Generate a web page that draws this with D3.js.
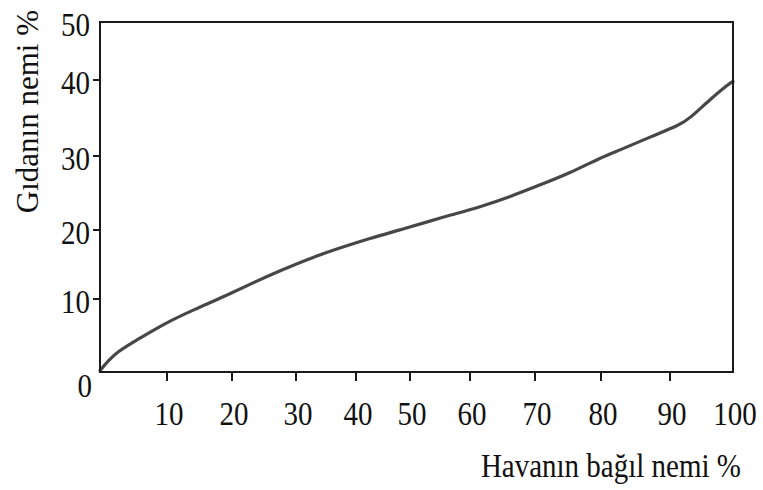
<!DOCTYPE html>
<html>
<head>
<meta charset="utf-8">
<script src="https://cdn.jsdelivr.net/npm/d3@7/dist/d3.min.js"></script>
<style>
  html, body { margin: 0; padding: 0; background: #fff; }
  svg { display: block; }
  text { font-family: "Liberation Serif", "Times New Roman", serif; fill: #111; }
</style>
</head>
<body>
<svg id="chart" width="763" height="490"></svg>
<script>
// Sorption curve: food moisture (%) against relative air humidity (%)
const xTicks = [0, 10, 20, 30, 40, 50, 60, 70, 80, 90, 100];
const yTicks = [0, 10, 20, 30, 40, 50];
const xTickLabels = ["10", "20", "30", "40", "50", "60", "70", "80", "90", "100"];
const yTickLabels = ["10", "20", "30", "40", "50"];

const humidity = [0, 2.2, 5.2, 9.7, 14.3, 18.9, 23.6, 27.5, 32.3, 37.3, 42.6, 48.1,
  53.3, 56.7, 61.5, 66.2, 70.8, 75.3, 79.8, 82.8, 87.1, 91.6, 93.2, 96.3, 99.5, 100];
const moisture = [0.2, 2.6, 4.2, 6.7, 8.6, 10.4, 12.5, 14.1, 15.9, 17.4, 18.8, 20.0,
  21.2, 22.0, 23.1, 24.5, 26.1, 27.7, 29.7, 30.8, 32.5, 34.1, 35.0, 37.4, 39.6, 39.8];

const xTitle = "Havanın bağıl nemi %";
const yTitle = "Gıdanın nemi %";

const svg = d3.select("#chart");

// Hand-drawn axes: tick spacing is not perfectly even, so piecewise scales are used
const x = d3.scaleLinear()
  .domain(xTicks)
  .range([100, 167, 232, 296, 356, 410, 470, 535, 601, 670, 733]);
const y = d3.scaleLinear()
  .domain(yTicks)
  .range([372, 299, 230, 156, 80, 22]);

const defs = svg.append("defs");
defs.append("filter").attr("id", "soft")
  .attr("x", "-5%").attr("y", "-5%").attr("width", "110%").attr("height", "110%")
  .append("feGaussianBlur").attr("stdDeviation", 0.7);

// Curve (smoothed)
const line = d3.line()
  .x((d, i) => x(humidity[i]))
  .y(d => y(d))
  .curve(d3.curveBasis);

svg.append("path")
  .datum(moisture)
  .attr("d", line)
  .attr("fill", "none")
  .attr("stroke", "#474747")
  .attr("stroke-width", 3.2)
  .attr("stroke-linecap", "round")
  .attr("filter", "url(#soft)");

// Frame
svg.append("rect")
  .attr("x", x(0)).attr("y", y(50))
  .attr("width", x(100) - x(0)).attr("height", y(0) - y(50))
  .attr("fill", "none")
  .attr("stroke", "#1a1a1a")
  .attr("stroke-width", 2);

// Bottom ticks
svg.append("g").selectAll("line")
  .data(xTicks.slice(1, -1))
  .join("line")
  .attr("x1", d => x(d)).attr("x2", d => x(d))
  .attr("y1", y(0)).attr("y2", y(0) + 9)
  .attr("stroke", "#1a1a1a").attr("stroke-width", 2);

// Left ticks
svg.append("g").selectAll("line")
  .data(yTicks.slice(1, -1))
  .join("line")
  .attr("x1", x(0) - 7).attr("x2", x(0))
  .attr("y1", d => y(d)).attr("y2", d => y(d))
  .attr("stroke", "#1a1a1a").attr("stroke-width", 2);

const FS = 29, STRETCH = 1.15;

// X tick labels
svg.append("g").selectAll("text")
  .data(xTickLabels)
  .join("text")
  .attr("text-anchor", "middle")
  .attr("font-size", FS)
  .attr("transform", (d, i) => `translate(${x(xTicks[i + 1]) + 2},${425}) scale(1,${STRETCH})`)
  .text(d => d);

// Y tick labels
svg.append("g").selectAll("text")
  .data(yTickLabels)
  .join("text")
  .attr("text-anchor", "end")
  .attr("font-size", FS)
  .attr("transform", (d, i) => `translate(${90},${y(yTicks[i + 1]) + 14}) scale(1,${STRETCH})`)
  .text(d => d);

// Shared origin label
svg.append("text")
  .attr("text-anchor", "end")
  .attr("font-size", FS)
  .attr("transform", `translate(${x(0) - 8},${y(0) + 25}) scale(1,${STRETCH})`)
  .text("0");

// Axis titles
svg.append("text")
  .attr("text-anchor", "end")
  .attr("font-size", FS)
  .attr("transform", `translate(${741},${477}) scale(1,${STRETCH})`)
  .text(xTitle);

svg.append("text")
  .attr("text-anchor", "end")
  .attr("font-size", 31)
  .attr("transform", `translate(${38},${10}) rotate(-90)`)
  .text(yTitle);
</script>
</body>
</html>
